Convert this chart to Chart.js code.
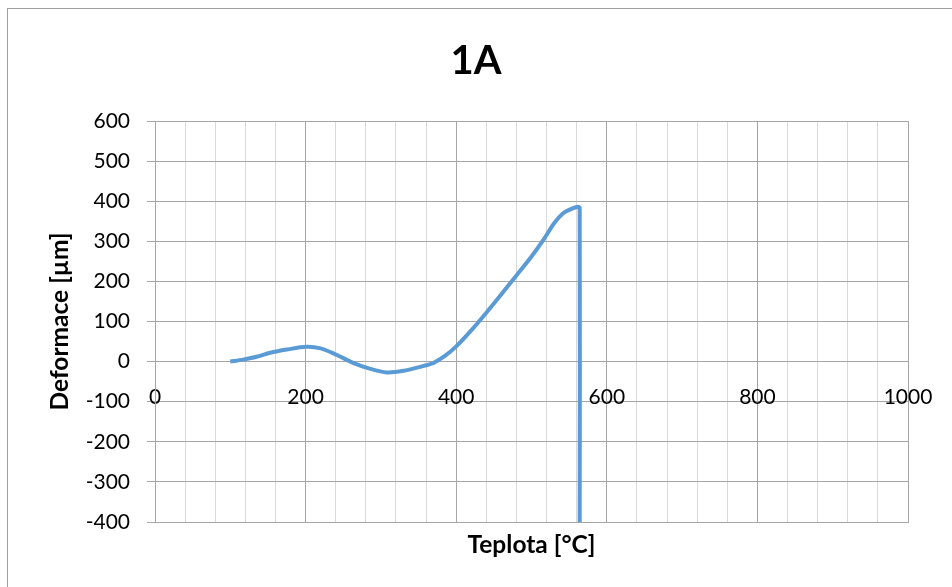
<!DOCTYPE html>
<html>
<head>
<meta charset="utf-8">
<script src="https://cdn.jsdelivr.net/npm/chart.js@4.4.1/dist/chart.umd.min.js"></script>
<style>
    html, body { margin: 0; padding: 0; background: #fff; overflow: hidden; }
    #frame {
        position: absolute; left: 7px; top: 8px; width: 1200px; height: 800px;
        border-left: 1px solid #a0a0a0; border-top: 1px solid #a0a0a0;
    }
    #chart { position: absolute; left: 0; top: 0; }
</style>
</head>
<body>
<div id="frame"></div>
<canvas id="chart" width="952" height="587"></canvas>
<script>
// Teplota [°C] vs Deformace [µm], vzorek 1A
const tempC = [100, 117, 135, 153, 175, 201, 220, 241, 263, 286, 308, 330, 352, 370, 385, 400, 420, 440, 460, 480, 500, 516, 530, 542, 553, 562, 564, 564];
const deformUm = [0, 5, 12, 22, 30, 37, 33, 17, -3, -18, -27, -23, -13, -3, 14, 38, 78, 122, 168, 215, 262, 304, 345, 370, 381, 386, 384, -400];

const chartTitle = '1A';
const xTitle = 'Teplota [°C]';
const yTitle = 'Deformace [µm]';

const points = tempC.map((t, i) => ({ x: t, y: deformUm[i] }));

const majorGrid = '#a6a6a6';
const minorGrid = '#d9d9d9';
const axisTitleFont = { family: 'Lato', size: 24.5, weight: 'bold', lineHeight: 1.2 };
const tickFont = { family: 'Lato', size: 21 };

const ctx = document.getElementById('chart').getContext('2d');
new Chart(ctx, {
    type: 'scatter',
    data: {
        datasets: [{
            data: points,
            xAxisID: 'x',
            yAxisID: 'y',
            showLine: true,
            borderColor: '#5b9bd5',
            borderWidth: 4,
            pointRadius: 0,
            tension: 0.3
        }]
    },
    options: {
        responsive: false,
        animation: false,
        layout: { padding: 0 },
        plugins: {
            legend: { display: false },
            tooltip: { enabled: false },
            title: {
                display: true,
                text: chartTitle,
                color: '#000',
                font: { family: 'Lato', size: 40, weight: 'bold', lineHeight: 1.2 },
                padding: { top: 37, bottom: 36 }
            }
        },
        scales: {
            x: {
                type: 'linear',
                position: 'bottom',
                min: 0,
                max: 1000,
                ticks: { display: false, stepSize: 40 },
                grid: {
                    drawTicks: false,
                    color: c => (c.tick.value % 200 === 0 ? majorGrid : minorGrid)
                },
                border: { color: majorGrid },
                title: {
                    display: true,
                    text: xTitle,
                    color: '#000',
                    font: axisTitleFont,
                    padding: { top: 0, bottom: 27 }
                },
                afterFit: s => { s.height = 65; }
            },
            // labels of the x axis sit on the y = 0 line, as in Excel
            x2: {
                type: 'linear',
                axis: 'x',
                position: { y: 0 },
                min: 0,
                max: 1000,
                grid: { display: false, drawTicks: false },
                border: { display: false },
                ticks: {
                    stepSize: 200,
                    padding: 23,
                    color: '#000',
                    font: tickFont,
                    callback: v => String(v)
                },
                afterFit: s => { s.paddingLeft = 0; s.paddingRight = 0; }
            },
            y: {
                type: 'linear',
                min: -400,
                max: 600,
                ticks: {
                    stepSize: 100,
                    padding: 17,
                    color: '#000',
                    font: tickFont
                },
                grid: { color: majorGrid, tickLength: 8 },
                border: { color: majorGrid },
                title: {
                    display: true,
                    text: yTitle,
                    color: '#000',
                    font: axisTitleFont,
                    padding: { top: 45, bottom: 0 }
                },
                afterFit: s => { s.width = 155; }
            },
            // empty right-hand margin
            yR: {
                type: 'linear',
                axis: 'y',
                position: 'right',
                ticks: { display: false },
                grid: { display: false, drawTicks: false },
                border: { display: false },
                afterFit: s => { s.width = 44; }
            }
        }
    }
});
</script>
</body>
</html>
